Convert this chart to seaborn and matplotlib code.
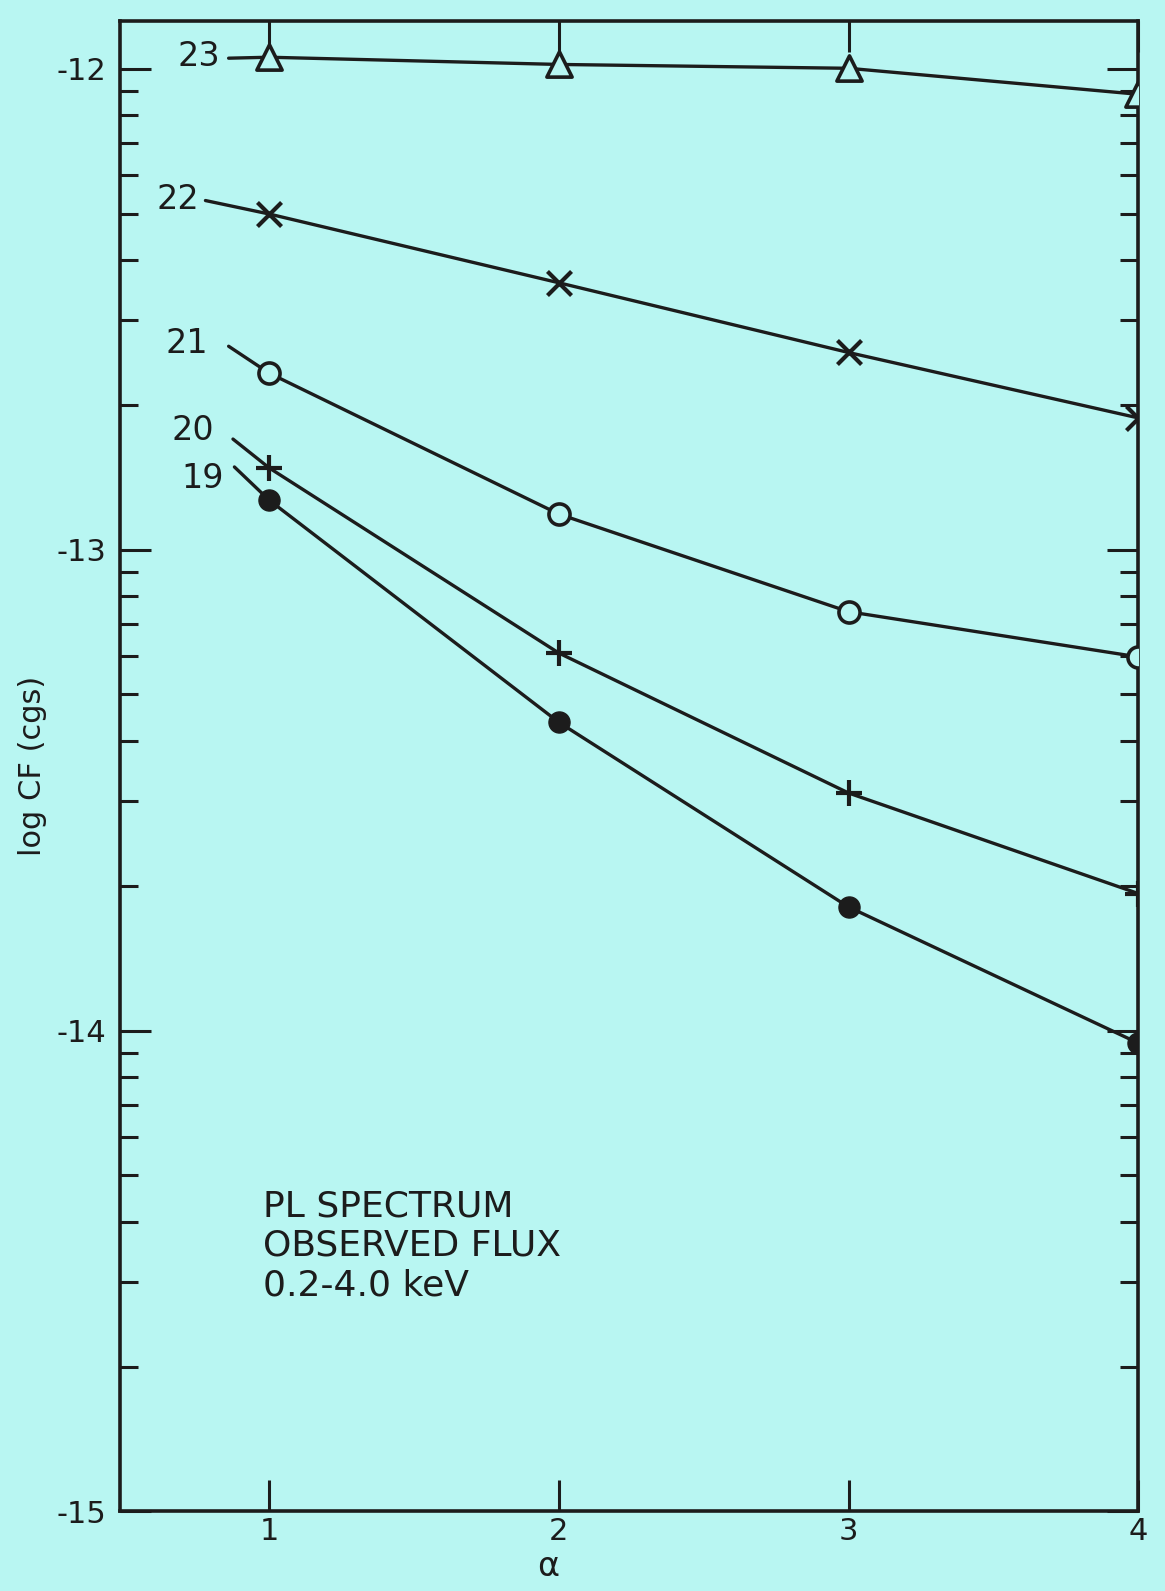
"""
Power-law spectrum: log count-to-flux factor vs spectral index alpha,
one curve per log N_H value (19..23).
"""

import numpy as np
import pandas as pd
import matplotlib.pyplot as plt
import seaborn as sns

# ---------- data ----------
alpha = [1, 2, 3, 4]
cf_23 = [-11.976, -11.991, -11.999, -12.053]
cf_22 = [-12.302, -12.445, -12.590, -12.726]
cf_21 = [-12.633, -12.926, -13.129, -13.223]
cf_20 = [-12.830, -13.215, -13.506, -13.715]
cf_19 = [-12.897, -13.359, -13.743, -14.026]

# left end of each curve (the lead-in stroke towards its label)
stub_alpha = [0.86, 0.78, 0.86, 0.875, 0.88]
stub_cf = [-11.978, -12.274, -12.577, -12.770, -12.828]

nh_labels = ["23", "22", "21", "20", "19"]
label_x = [0.83, 0.76, 0.79, 0.81, 0.845]
label_y = [-11.975, -12.272, -12.572, -12.752, -12.852]

BG = "#b8f6f2"
INK = "#1c1c1c"

sns.set_theme(style="ticks")
plt.rcParams["font.family"] = ["DejaVu Sans"]

curves = [cf_23, cf_22, cf_21, cf_20, cf_19]
rows = []
for name, vals, sx, sy in zip(nh_labels, curves, stub_alpha, stub_cf):
    rows.append({"nh": name, "alpha": sx, "cf": sy})
    for a, v in zip(alpha, vals):
        rows.append({"nh": name, "alpha": a, "cf": v})
df = pd.DataFrame(rows)

fig = plt.figure(figsize=(11.65, 15.91), dpi=100, facecolor=BG)
ax = fig.add_axes([0.103, 0.05, 0.874, 0.937])
ax.set_facecolor(BG)

# curves
for name in nh_labels:
    sub = df[df["nh"] == name]
    sns.lineplot(data=sub, x="alpha", y="cf", color=INK, lw=2.4,
                 estimator=None, sort=True, ax=ax, legend=False)

# markers
marker_spec = {
    "23": dict(marker="^", s=330, facecolor=BG, edgecolor=INK, linewidth=2.6),
    "22": dict(marker="x", s=300, color=INK, linewidth=3.0),
    "21": dict(marker="o", s=230, facecolor=BG, edgecolor=INK, linewidth=2.6),
    "20": dict(marker="+", s=330, color=INK, linewidth=3.0),
    "19": dict(marker="o", s=230, facecolor=INK, edgecolor=INK, linewidth=1.0),
}
for name, vals in zip(nh_labels, curves):
    sns.scatterplot(x=alpha, y=vals, ax=ax, zorder=5, legend=False,
                    **marker_spec[name])

# curve labels
for txt, lx, ly in zip(nh_labels, label_x, label_y):
    ax.text(lx, ly, txt, fontsize=24, color=INK, ha="right", va="center")

ax.text(0.98, -14.33, "PL SPECTRUM\nOBSERVED FLUX\n0.2-4.0 keV",
        fontsize=26, color=INK, ha="left", va="top", linespacing=1.2)

# ---------- axes ----------
ax.set_xlim(0.485, 4.0)
ax.set_ylim(-15.0, -11.9)
ax.set_xticks([1, 2, 3, 4])
ax.set_xticklabels(["1", "2", "3", "4"])
ax.set_yticks([-12, -13, -14, -15])
ax.set_yticklabels(["-12", "-13", "-14", "-15"])
minor_y = [n + np.log10(k) for n in (-15, -14, -13) for k in range(2, 10)]
ax.set_yticks(minor_y, minor=True)

ax.tick_params(axis="both", which="major", direction="in", length=22,
               width=2.2, color=INK, labelsize=22, labelcolor=INK,
               top=True, right=True)
ax.tick_params(axis="x", which="major", pad=4)
ax.tick_params(axis="y", which="major", pad=10)
ax.tick_params(axis="y", which="minor", direction="in", length=13,
               width=2.2, color=INK, right=True, left=True)
for side in ["left", "right", "top", "bottom"]:
    ax.spines[side].set_linewidth(2.6)
    ax.spines[side].set_color(INK)

ax.set_xlabel("α", fontsize=24, color=INK, va="top")
ax.xaxis.set_label_coords(0.42, -0.026)
ax.set_ylabel("log CF (cgs)", fontsize=22, color=INK)
ax.yaxis.set_label_coords(-0.072, 0.5)

fig.savefig("out.png", dpi=100, facecolor=BG)
